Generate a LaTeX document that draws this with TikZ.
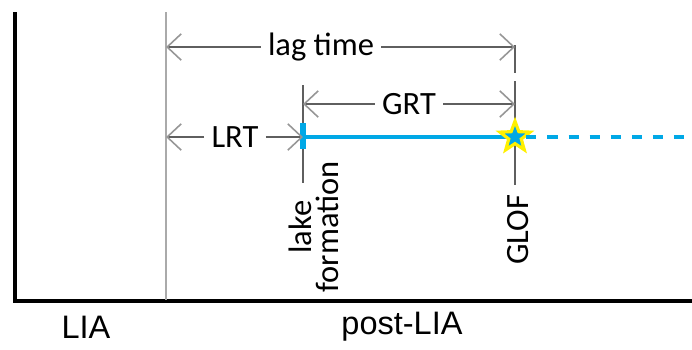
\documentclass[tikz,border=0pt]{standalone}
\usepackage{fontspec}
\setmainfont{Carlito}
\newfontfamily\arialfont{Liberation Sans}
\usetikzlibrary{arrows.meta,shapes.geometric}

\definecolor{lakeblue}{RGB}{0,168,230}
\definecolor{dimgray}{RGB}{95,95,95}
\definecolor{tipgray}{RGB}{150,150,150}
\definecolor{markgray}{RGB}{170,170,170}
\definecolor{glofyellow}{RGB}{255,240,0}

\tikzset{
  dimarrow/.style={draw=dimgray, line width=0.8pt,
    -{Straight Barb[length=8pt,width=15pt,color=tipgray,line width=0.9pt]}},
  dimlabel/.style={font=\fontsize{18.5}{20}\selectfont, inner sep=4pt},
  eventlabel/.style={font=\fontsize{18.5}{15.5}\selectfont, rotate=90, align=center, inner sep=0pt},
  periodlabel/.style={font=\arialfont\fontsize{18.5}{20}\selectfont, inner sep=0pt},
  tickline/.style={draw=dimgray, line width=0.6pt},
  axisline/.style={line width=2.3pt},
  lakeline/.style={draw=lakeblue, line width=2.2pt},
}

\begin{document}
\begin{tikzpicture}[x=0.02cm,y=-0.02cm]
  \useasboundingbox (0,0) rectangle (692,349);

  % axes
  \draw [axisline] (15,12) -- (15,301) -- (692,301);
  \draw [markgray, line width=0.8pt] (166,12) -- (166,300); % end of LIA

  % event markers
  \coordinate (tLIA) at (166,137);
  \coordinate (tLake) at (303,137);
  \coordinate (tGLOF) at (515,137);
  \draw [tickline] (303,85) -- (303,183);
  \draw [tickline] (515,45) -- (515,73);
  \draw [tickline] (515,81) -- (515,185);

  % lake line
  \draw [lakeline] (tLake) -- (tGLOF);
  \draw [draw=lakeblue, line width=3pt] (303,123) -- (303,149);
  \node [star, star points=5, star point ratio=2.4, minimum size=18pt, inner sep=0pt,
         fill=lakeblue, draw=glofyellow, line width=1.8pt] (glofstar) at (tGLOF) {};
  \coordinate (future) at (692,137);
  \draw [lakeline, dash pattern=on 5.7pt off 6.3pt] (glofstar) -- (future);

  % time spans
  \node [dimlabel] (lagtime) at (321,47) {lag time};
  \draw [dimarrow] (lagtime) -- (166,47);
  \draw [dimarrow] (lagtime) -- (515,47);

  \node [dimlabel] (grt) at (409,104) {GRT};
  \draw [dimarrow] (grt) -- (303,104);
  \draw [dimarrow] (grt) -- (515,104);

  \node [dimlabel] (lrt) at (235,137) {LRT};
  \draw [dimarrow] (lrt) -- (tLIA);
  \draw [dimarrow] (lrt) -- (tLake);

  % events
  \node [eventlabel] (lake) at (314,227) {lake\\formation};
  \node [eventlabel] (glof) at (518,230) {GLOF};

  % periods
  \node [periodlabel] (lia) at (86,327) {LIA};
  \node [periodlabel] (postlia) at (402,327) {post-LIA};
\end{tikzpicture}
\end{document}
